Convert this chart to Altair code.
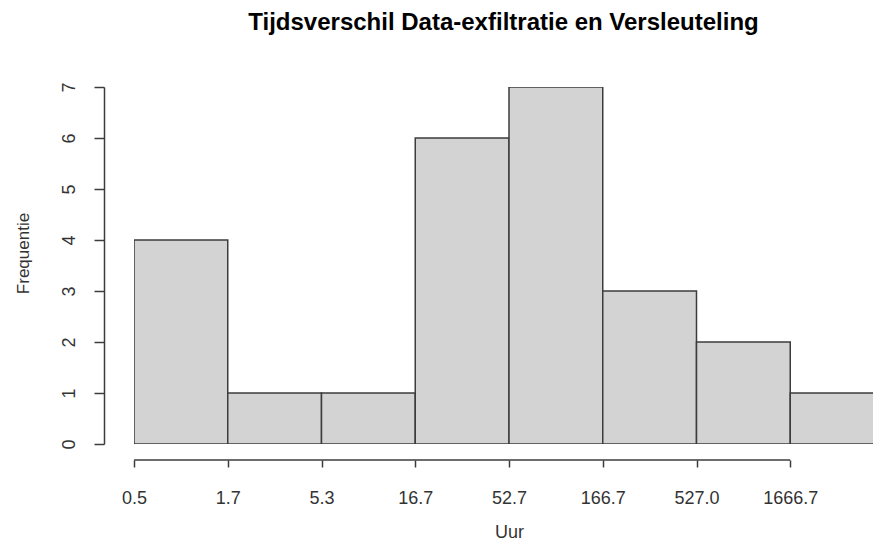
import json
import altair as alt
import pandas as pd

# ---- data ----
breaks = ["0.5", "1.7", "5.3", "16.7", "52.7", "166.7", "527.0", "1666.7"]
counts = [4, 1, 1, 6, 7, 3, 2, 1]
y_ticks = [0, 1, 2, 3, 4, 5, 6, 7]

bins = pd.DataFrame({
    "start": list(range(len(counts))),
    "end": [i + 1 for i in range(len(counts))],
    "count": counts,
})
axis_line = pd.DataFrame({"a": [0], "b": [len(breaks) - 1]})

BIN_PX = 93.75
W, H = 739, 357
XMAX = W / BIN_PX
FONT = "Liberation Sans"
LINE = "#3c3c3c"
TXT = "#333333"

label_expr = json.dumps(breaks) + "[datum.value]"

x_scale = alt.Scale(domain=[0, XMAX], nice=False, zero=False)
y_scale = alt.Scale(domain=[0, 7], nice=False)

x_axis = alt.Axis(
    values=list(range(len(breaks))), labelExpr=label_expr, title="Uur",
    domain=False, grid=False, offset=16, tickSize=7, tickColor=LINE,
    tickWidth=1.5, labelFont=FONT, labelFontSize=18, labelColor=TXT,
    labelPadding=22, labelBaseline="top", labelFlush=False,
    labelOverlap=False, titleFont=FONT, titleFontSize=18,
    titleFontWeight="normal", titleColor=TXT, titleBaseline="alphabetic",
    titleY=77, titleX=4 * BIN_PX,
)

bars = alt.Chart(bins).mark_bar(
    clip=True, fill="#d3d3d3", stroke=LINE, strokeWidth=1.5
).encode(
    x=alt.X("start:Q", scale=x_scale, axis=x_axis),
    x2="end:Q",
    y=alt.Y("count:Q", scale=y_scale, axis=alt.Axis(
        values=y_ticks, title="Frequentie", grid=False, offset=30,
        tickSize=10, tickColor=LINE, tickWidth=1.5, domainColor=LINE,
        domainWidth=1.5, labelAngle=-90, labelAlign="center",
        labelBaseline="alphabetic", labelPadding=20, labelFont=FONT,
        labelFontSize=18, labelColor=TXT, labelFlush=False,
        labelOverlap=False, titleFont=FONT, titleFontSize=17,
        titleFontWeight="normal", titleColor=TXT, titleBaseline="alphabetic",
        titleX=-76, titleY=166,
    )),
    y2=alt.datum(0),
)

rule = alt.Chart(axis_line).mark_rule(stroke=LINE, strokeWidth=1.5).encode(
    x=alt.X("a:Q", scale=x_scale, axis=x_axis),
    x2="b:Q",
    y=alt.value(H + 16),
)

chart = alt.layer(bars, rule).properties(
    width=W,
    height=H,
    autosize=alt.AutoSizeParams(type="none"),
    padding={"left": 126, "top": 79, "right": 0, "bottom": 98},
    title=alt.TitleParams(
        "Tijdsverschil Data-exfiltratie en Versleuteling",
        font=FONT, fontSize=24, fontWeight="bold", color="black",
        anchor="middle", baseline="alphabetic", offset=28,
    ),
).configure_view(stroke=None)

chart.save("out.html", embed_options={"renderer": "svg", "actions": False})
